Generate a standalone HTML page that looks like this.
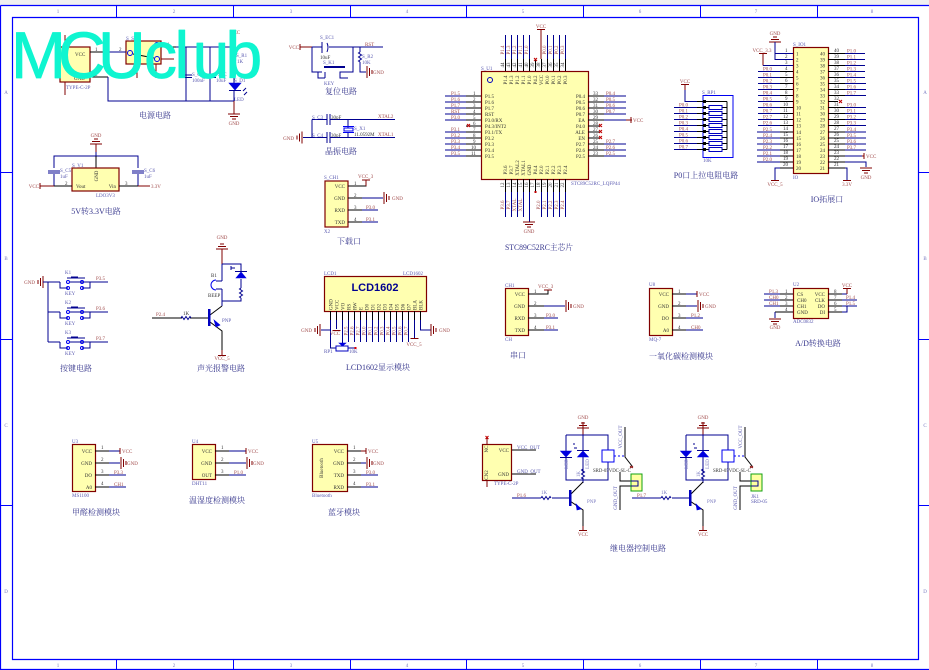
<!DOCTYPE html>
<html><head><meta charset="utf-8"><style>
html,body{margin:0;padding:0;background:#fff}
svg{display:block}
text{font-family:"Liberation Serif","Noto Serif CJK SC",serif;font-size:5px}
.w{fill:none;stroke:#000090;stroke-width:1;shape-rendering:crispEdges}
.k{fill:none;stroke:#000;stroke-width:1;shape-rendering:crispEdges}
.p{fill:none;stroke:#800000;stroke-width:1;shape-rendering:crispEdges}
.c{fill:#ffffb0;stroke:#800000;stroke-width:1.200}
.f{fill:none;stroke:#0000f0;stroke-width:1}
.s{fill:#0000e0;stroke:#0000e0;stroke-width:.6}
.n{fill:#a04a4a}.i{fill:#333}.l{fill:#5a5ab0}.z{fill:#7a7ac0;font-size:5px}
.h{fill:#38388e;font-size:8px;text-anchor:middle;font-family:"Liberation Serif","Noto Serif CJK SC",serif}
.m{text-anchor:middle}.e{text-anchor:end}
.a{shape-rendering:auto}
</style></head><body>
<svg width="929" height="670" viewBox="0 0 929 670" xmlns="http://www.w3.org/2000/svg">
<defs>
<g id="gd" class="p"><path d="M-6 0H6M-4 2.500H4M-2 5H2"/></g>
<g id="gu" class="p"><path d="M-6 0H6M-4 -2.500H4M-2 -5H2"/></g>
<g id="gr" class="p"><path d="M0 -6V6M2.500 -4V4M5 -2V2"/></g>
<g id="gl" class="p"><path d="M0 -6V6M-2.500 -4V4M-5 -2V2"/></g>
<path id="rh" class="w a" d="M-5 0L-4 -1.500L-2 1.500L0 -1.500L2 1.500L4 -1.500L5 0"/>
<path id="rv" class="w a" d="M0 -5L-1.500 -4L1.500 -2L-1.500 0L1.500 2L-1.500 4L0 5"/>
<g id="key">
<path class="w" d="M0 0H12M12 0V6H20M46 0H22M34 0V0M34 6H42V0"/>
<circle class="f" cx="20" cy="0" r="1.500"/><circle class="f" cx="20" cy="6" r="1.500"/>
<circle class="f" cx="34" cy="0" r="1.500"/><circle class="f" cx="34" cy="6" r="1.500"/>
<path class="w" d="M19 -4H37"/><path d="M23 -5.500H30V-4H23Z" fill="#000090"/>
</g>
<g id="relay">
<path class="p" d="M583 422V435"/>
<use href="#gu" x="583" y="428"/>
<text class="n m" x="583" y="419">GND</text>
<path class="w" d="M566 435H608V450M608 462V480H566V435M583 435V473M583 478V483"/>
<rect class="f" x="602" y="450" width="12" height="12"/>
<path class="s" d="M560.500 451H571.500L566 457Z"/><path class="w" d="M560 457.500H572"/>
<path class="s" d="M577.500 457H588.500L583 451Z"/><path class="w" d="M577 450.500H589"/>
<path class="w" d="M577 448L574 448M575 444H573"/>
<use href="#rv" x="583" y="474"/>
<g transform="rotate(-90)"><text class="z m" x="-464" y="568">LED</text><text class="z m" x="-464" y="589">LED</text><text class="z m" x="-474" y="580">1K</text></g>
<path class="k a" d="M570 495L583 482M570 501L583 510V526"/>
<path class="w" d="M536 498H541M552 498H570"/>
<use href="#rh" x="546" y="498"/>
<rect x="569" y="490" width="2.500" height="16" fill="#0000c0"/>
<path class="s" d="M576 504L581 509L577 510Z"/>
<text class="z" x="587" y="503">PNP</text>
<text class="z m" x="544" y="494">1K</text>
<path class="p" d="M583 526V530M579 530.500H587"/>
<text class="n m" x="583" y="536">VCC</text>
<path class="k a" d="M625 427V457L632 466"/>
<path class="f" d="M614 456H625" stroke-dasharray="2 2"/>
<path class="p a" d="M630 466L633 468M633 466L630 468"/>
<text class="i" x="593" y="472" style="font-size:4.800px">SRD-05VDC-SL-C</text>
<g transform="rotate(-90)"><text class="l m" x="-437" y="622">VCC_OUT</text><text class="l m" x="-498" y="617">GND_OUT</text></g>
<path class="k" d="M620 472V481H631M631 486H620V510"/>
<rect x="631" y="474" width="11" height="17" fill="#ffffa0" stroke="#10a010" stroke-width="1"/>
<path class="w" d="M631 481H638V486H631"/>
</g>
</defs>
<rect width="929" height="670" fill="#fff"/>
<rect x="0" y="0" width="929" height="5" fill="#f0f0f0"/>
<path d="M.5 5.500H929M.5 5.500V670M.5 669.500H929M12.500 17.500H918.500V659.500H12.500Z" fill="none" stroke="#0000ff" stroke-width="1.200"/>
<path d="M116.500 5V17M233.500 5V17M350.500 5V17M466.500 5V17M583.500 5V17M700.500 5V17M817.500 5V17M116.500 659V670M233.500 659V670M350.500 659V670M466.500 659V670M583.500 659V670M700.500 659V670M817.500 659V670M0 172.500H12M0 339.500H12M0 505.500H12M919 172.500H929M919 339.500H929M919 505.500H929" stroke="#0000ff" fill="none"/>
<g class="z" text-anchor="middle" style="font-size:5px">
<text x="58" y="13">1</text><text x="174" y="13">2</text><text x="291" y="13">3</text><text x="407" y="13">4</text><text x="523" y="13">5</text><text x="640" y="13">6</text><text x="756" y="13">7</text><text x="872" y="13">8</text>
<text x="58" y="667">1</text><text x="174" y="667">2</text><text x="291" y="667">3</text><text x="407" y="667">4</text><text x="523" y="667">5</text><text x="640" y="667">6</text><text x="756" y="667">7</text><text x="872" y="667">8</text>
<text x="6" y="94">A</text><text x="6" y="260">B</text><text x="6" y="427">C</text><text x="6" y="593">D</text>
<text x="925" y="94">A</text><text x="925" y="260">B</text><text x="925" y="427">C</text><text x="925" y="593">D</text>
</g>

<!-- power -->
<rect class="c" x="60" y="47" width="30" height="35"/>
<rect class="c" x="126" y="41" width="35" height="23"/>
<path class="k" d="M90 52H108M90 77H108M161 47H176"/>
<path class="w" d="M108 52H126M176 47H235V36M108 77V101H234M186 47V101M210 47V101M234 47V53M234 63V83M234 91V101"/>
<path class="p" d="M65 47V35M65 82V95M161 59H174M137 64V78M156 64V78M234 101V114M234 30V36"/>
<use href="#rv" x="234" y="58"/>
<path class="w" d="M180 75H192M180 77.500H192M204 75H216M204 77.500H216"/>
<path class="s" d="M229 83H241L235 90Z"/><path class="w a" d="M229 90.500H241M243 91L246 88M244 95L247 92"/>
<circle class="f" cx="130" cy="53" r="2.500"/><circle class="f" cx="157" cy="45" r="2.500"/><circle class="f" cx="157" cy="59" r="2.500"/>
<path class="k a" d="M133 54L154 58"/>
<use href="#gd" x="234" y="114"/>
<text class="n m" x="234" y="125">GND</text><text class="n m" x="235" y="34">VCC</text>
<text class="i" x="75" y="56">VCC</text><text class="i" x="74" y="80">GND</text>
<text class="l" x="66" y="89">TYPE-C-2P</text><text class="l" x="126" y="40">S_SW1</text>
<text class="l" x="236" y="57">S_R1</text><text class="l" x="237" y="63">1K</text><text class="l" x="234" y="82">S_D1</text><text class="l" x="234" y="101">LED</text>
<text class="l" x="192" y="76">S_C</text><text class="l" x="192" y="82">100nF</text><text class="l" x="218" y="76">S_C</text><text class="l" x="216" y="82">10uF</text>
<text class="i" x="95" y="51">1</text><text class="i" x="119" y="51">2</text><text class="i" x="167" y="46">1</text><text class="i" x="95" y="76">2</text>
<text class="h" x="155" y="118">电源电路</text>

<!-- LDO -->
<use href="#gu" x="96" y="144"/>
<text class="n m" x="96" y="137">GND</text>
<path class="p" d="M96 144V152"/>
<path class="w" d="M96 152V156M54 168V156H138V168M54 174V186M138 174V186"/>
<path class="k" d="M96 156V168"/>
<rect class="c" x="72" y="168" width="47" height="23"/>
<path class="w" d="M48 171H60M48 173H60M132 171H144M132 173H144"/>
<path class="k" d="M54 186H72M119 186H138"/>
<path class="p" d="M40 183V189M40 186H54M138 186H150"/>
<text class="n e" x="39" y="188">VCC</text><text class="n" x="151" y="188">3.3V</text>
<text class="i" x="76" y="188">Vout</text><text class="i e" x="116" y="188">Vin</text>
<g transform="rotate(-90)"><text class="i m" x="-176" y="98">GND</text></g>
<text class="l" x="72" y="167">S_V1</text><text class="l" x="60" y="172">S_C5</text><text class="l" x="60" y="178">1uF</text><text class="l" x="144" y="172">S_C6</text><text class="l" x="144" y="178">1uF</text><text class="l" x="96" y="197">LDO3V3</text>
<text class="i" x="65" y="185">2</text><text class="i" x="125" y="185">3</text>
<text class="h" x="96" y="214">5V转3.3V电路</text>

<!-- reset -->
<path class="p" d="M300 44V50M300 47H312"/><text class="n e" x="299" y="49">VCC</text>
<path class="w" d="M312 47H322M329 47H383M312 47V72H322M353 47V72H345M360 47V52M360 62V72H366"/>
<path class="w a" d="M322 42V53M327 43Q329 47 327 52"/>
<use href="#rv" x="360" y="57"/>
<use href="#gr" x="367" y="72"/>
<text class="n" x="373" y="74">GND</text>
<text class="n" x="365" y="46">RST</text>
<text class="l" x="320" y="39">S_EC1</text><text class="i" x="320" y="59">10uF</text><text class="l" x="323" y="64">S_K1</text><text class="l" x="324" y="85">KEY</text><text class="l" x="362" y="58">S_R2</text><text class="l" x="362" y="64">10K</text>
<rect x="324" y="66" width="21" height="2" fill="#000090"/>
<path class="w" d="M318 72V78H325M345 72H340V78H348M325 72V78"/>
<text class="h" x="341" y="94">复位电路</text>

<!-- crystal -->
<use href="#gl" x="302" y="137.500"/>
<text class="n e" x="294" y="140">GND</text>
<path class="w" d="M303 137.500H327M312 119.500V137.500M312 119.500H327M330 119.500H395M330 137.500H395M327 114V125M330 114V125M327 132V143M330 132V143M348 119.500V128M348 132V137.500"/>
<rect class="f" x="344" y="128" width="9" height="3"/><path class="f" d="M343 126.500H354M343 132.500H354"/>
<text class="n" x="378" y="118">XTAL2</text><text class="n" x="378" y="136">XTAL1</text>
<text class="l" x="312" y="119">S_C3</text><text class="l" x="312" y="137">S_C4</text><text class="i" x="331" y="119">30pF</text><text class="i" x="331" y="137">30pF</text><text class="l" x="354" y="130">S_X1</text><text class="i" x="354" y="136">11.0592M</text>
<text class="h" x="341" y="154">晶振电路</text>

<!-- download -->
<rect class="c" x="325" y="181" width="23" height="46"/>
<g class="i" text-anchor="end"><text x="345" y="188">VCC</text><text x="345" y="200">GND</text><text x="345" y="212">RXD</text><text x="345" y="224">TXD</text></g>
<path class="k" d="M348 186H366V180M348 198H362M348 210H362M348 222H362"/>
<path class="w" d="M362 198H383M362 210H378M362 222H378"/>
<path class="p" d="M362 180H370M366 180V186"/>
<use href="#gr" x="384" y="198"/>
<g><text class="n" x="358" y="178">VCC_3</text><text class="n" x="392" y="200">GND</text><text class="n" x="366" y="209">P3.0</text><text class="n" x="366" y="221">P3.1</text></g>
<g class="i"><text x="354" y="185">1</text><text x="354" y="197">2</text><text x="354" y="209">3</text><text x="354" y="221">4</text></g>
<text class="l" x="324" y="179">S_CH1</text><text class="l" x="324" y="233">X2</text>
<text class="h" x="349" y="244">下载口</text>

<!-- MCU -->
<rect class="c" x="481.500" y="71.500" width="107" height="108"/>
<circle cx="490" cy="80" r="2.500" fill="none" stroke="#0000c0"/>
<path class="w" d="M445 96H466M445 102H466M445 108H466M445 114H466M445 120H466M445 132H466M445 138H466M445 144H466M445 150H466M445 156H466"/>
<path class="k" d="M466 96H481M466 102H481M466 108H481M466 114H481M466 120H481M466 126H481M466 132H481M466 138H481M466 144H481M466 150H481M466 156H481"/>
<path d="M467 124L470 127M470 124L467 127" stroke="#c00000" fill="none"/>
<path class="k" d="M588 96H604M588 102H604M588 108H604M588 114H604M588 120H604M588 126H600M588 132H600M588 138H600M588 144H604M588 150H604M588 156H604"/>
<path class="w" d="M604 96H626M604 102H626M604 108H626M604 114H626M604 120H630M604 144H626M604 150H626M604 156H626"/>
<path class="p" d="M626 120H632M631 117V123"/>
<text class="n" x="633" y="122">VCC</text>
<path d="M599 124L602 127M602 124L599 127M599 130L602 133M602 130L599 133M599 136L602 139M602 136L599 139" stroke="#c00000" fill="none"/>
<g class="i">
<text x="485" y="98">P1.5</text><text x="485" y="104">P1.6</text><text x="485" y="110">P1.7</text><text x="485" y="116">RST</text><text x="485" y="122">P3.0/RX</text><text x="485" y="128">P4.3/INT2</text><text x="485" y="134">P3.1/TX</text><text x="485" y="140">P3.2</text><text x="485" y="146">P3.3</text><text x="485" y="152">P3.4</text><text x="485" y="158">P3.5</text>
<g text-anchor="end"><text x="585" y="98">P0.4</text><text x="585" y="104">P0.5</text><text x="585" y="110">P0.6</text><text x="585" y="116">P0.7</text><text x="585" y="122">EA</text><text x="585" y="128">P4.0</text><text x="585" y="134">ALE</text><text x="585" y="140">EN</text><text x="585" y="146">P2.7</text><text x="585" y="152">P2.6</text><text x="585" y="158">P2.5</text></g>
<text x="473" y="95">1</text><text x="473" y="101">2</text><text x="473" y="107">3</text><text x="473" y="113">4</text><text x="473" y="119">5</text><text x="473" y="125">6</text><text x="473" y="131">7</text><text x="473" y="137">8</text><text x="473" y="143">9</text><text x="471" y="149">10</text><text x="471" y="155">11</text>
<text x="593" y="95">33</text><text x="593" y="101">32</text><text x="593" y="107">31</text><text x="593" y="113">30</text><text x="593" y="119">29</text><text x="593" y="125">28</text><text x="593" y="131">27</text><text x="593" y="137">26</text><text x="593" y="143">25</text><text x="593" y="149">24</text><text x="593" y="155">23</text>
</g>
<g class="n">
<text x="451" y="95">P1.5</text><text x="451" y="101">P1.6</text><text x="451" y="107">P1.7</text><text x="451" y="113">RST</text><text x="451" y="119">P3.0</text><text x="451" y="131">P3.1</text><text x="451" y="137">P3.2</text><text x="451" y="143">P3.3</text><text x="451" y="149">P3.4</text><text x="451" y="155">P3.5</text>
<text x="606" y="95">P0.4</text><text x="606" y="101">P0.5</text><text x="606" y="107">P0.6</text><text x="606" y="113">P0.7</text><text x="606" y="143">P2.7</text><text x="606" y="149">P2.6</text><text x="606" y="155">P2.5</text>
</g>
<path class="w" d="M505.500 35V59M511.500 35V59M517.500 35V59M523.500 35V59M529.500 35V59M547.500 35V59M553.500 35V59M559.500 35V59M565.500 35V59"/>
<path class="k" d="M505.500 59V71M511.500 59V71M517.500 59V71M523.500 59V71M529.500 59V71M535.500 59V71M541.500 59V71M547.500 59V71M553.500 59V71M559.500 59V71M565.500 59V71"/>
<path class="p" d="M541 30V59M537 29.500H545"/>
<text class="n m" x="541" y="28">VCC</text>
<path d="M534 58L537 61M537 58L534 61" stroke="#c00000" fill="none"/>
<g transform="rotate(-90)">
<g class="n" text-anchor="middle"><text x="-50" y="504">P1.4</text><text x="-50" y="510">P1.3</text><text x="-50" y="516">P1.2</text><text x="-50" y="522">P1.1</text><text x="-50" y="528">P1.0</text><text x="-50" y="546">P0.0</text><text x="-50" y="552">P0.1</text><text x="-50" y="558">P0.2</text><text x="-50" y="564">P0.3</text></g>
<g class="i" text-anchor="middle"><text x="-65" y="504">44</text><text x="-65" y="510">43</text><text x="-65" y="516">42</text><text x="-65" y="522">41</text><text x="-65" y="528">40</text><text x="-65" y="534">39</text><text x="-65" y="540">38</text><text x="-65" y="546">37</text><text x="-65" y="552">36</text><text x="-65" y="558">35</text><text x="-65" y="564">34</text>
<text x="-80" y="507">P1.4</text><text x="-80" y="513">P1.3</text><text x="-80" y="519">P1.2</text><text x="-80" y="525">P1.1</text><text x="-80" y="531">P1.0</text><text x="-80" y="537">P4.2</text><text x="-80" y="543">VCC</text><text x="-80" y="549">P0.0</text><text x="-80" y="555">P0.1</text><text x="-80" y="561">P0.2</text><text x="-80" y="567">P0.3</text>
<text x="-170" y="507">P3.6</text><text x="-170" y="513">P3.7</text><text x="-168" y="519">XTAL2</text><text x="-168" y="525">XTAL1</text><text x="-170" y="531">GND</text><text x="-170" y="537">P4.4</text><text x="-170" y="543">P2.0</text><text x="-170" y="549">P2.1</text><text x="-170" y="555">P2.2</text><text x="-170" y="561">P2.3</text><text x="-170" y="567">P2.4</text>
<text x="-185" y="504">12</text><text x="-185" y="510">13</text><text x="-185" y="516">14</text><text x="-185" y="522">15</text><text x="-185" y="528">16</text><text x="-185" y="534">17</text><text x="-185" y="540">18</text><text x="-185" y="546">19</text><text x="-185" y="552">20</text><text x="-185" y="558">21</text><text x="-185" y="564">22</text></g>
<g class="n" text-anchor="middle"><text x="-205" y="504">P3.6</text><text x="-205" y="510">P3.7</text><text x="-205" y="516">XTAL</text><text x="-205" y="522">XTAL</text><text x="-205" y="540">P2.0</text><text x="-205" y="546">P2.1</text><text x="-205" y="552">P2.2</text><text x="-205" y="558">P2.3</text><text x="-205" y="564">P2.4</text></g>
</g>
<path class="k" d="M505.500 179V192M511.500 179V192M517.500 179V192M523.500 179V192M529.500 179V192M535.500 179V192M541.500 179V192M547.500 179V192M553.500 179V192M559.500 179V192M565.500 179V192"/>
<path class="w" d="M505.500 192V217M511.500 192V217M517.500 192V217M523.500 192V217M529.500 192V222M541.500 192V217M547.500 192V217M553.500 192V217M559.500 192V217M565.500 192V217"/>
<rect x="534.500" y="191" width="2" height="2" fill="#c00000"/>
<use href="#gd" x="529" y="222"/>
<text class="n m" x="529" y="233">GND</text>
<text class="l" x="481" y="70">S_U1</text><text class="l" x="571" y="185">STC89C52RC_LQFP44</text>
<text class="h" x="539" y="250" textLength="68" lengthAdjust="spacingAndGlyphs">STC89C52RC主芯片</text>

<!-- P0 pullups -->
<rect class="f" x="703" y="95.500" width="30" height="62"/>
<path class="p" d="M685 85V90M681 84.500H689"/><text class="n m" x="685" y="83">VCC</text>
<path class="w" d="M685 90V101.500H697"/>
<path class="k" d="M697 101.500H706M697 107.500H709M697 113.500H709M697 119.500H709M697 125.500H709M697 131.500H709M697 137.500H709M697 143.500H709M697 149.500H709M722 107.500H727M722 113.500H727M722 119.500H727M722 125.500H727M722 131.500H727M722 137.500H727M722 143.500H727M722 149.500H727M727 101.500V149.500M706 101.500H727"/>
<path class="w" d="M674 107.500H697M674 113.500H697M674 119.500H697M674 125.500H697M674 131.500H697M674 137.500H697M674 143.500H697M674 149.500H697"/>
<g fill="none" stroke="#0000c0"><rect x="709" y="105.500" width="13" height="4"/><rect x="709" y="111.500" width="13" height="4"/><rect x="709" y="117.500" width="13" height="4"/><rect x="709" y="123.500" width="13" height="4"/><rect x="709" y="129.500" width="13" height="4"/><rect x="709" y="135.500" width="13" height="4"/><rect x="709" y="141.500" width="13" height="4"/><rect x="709" y="147.500" width="13" height="4"/></g>
<g fill="#000"><rect x="703" y="100" width="3" height="3"/><rect x="703" y="106" width="3" height="3"/><rect x="703" y="112" width="3" height="3"/><rect x="703" y="118" width="3" height="3"/><rect x="703" y="124" width="3" height="3"/><rect x="703" y="130" width="3" height="3"/><rect x="703" y="136" width="3" height="3"/><rect x="703" y="142" width="3" height="3"/><rect x="703" y="148" width="3" height="3"/></g>
<g class="n"><text x="679" y="106.500">P0.0</text><text x="679" y="112.500">P0.1</text><text x="679" y="118.500">P0.2</text><text x="679" y="124.500">P0.3</text><text x="679" y="130.500">P0.4</text><text x="679" y="136.500">P0.5</text><text x="679" y="142.500">P0.6</text><text x="679" y="148.500">P0.7</text></g>
<text class="l" x="702" y="94">S_RP1</text><text class="l" x="703" y="162">10K</text>
<text class="h" x="706" y="178">P0口上拉电阻电路</text>

<!-- IO -->
<rect class="c" x="793.500" y="47.500" width="35" height="126"/>
<use href="#gu" x="775" y="42"/>
<text class="n m" x="775" y="35">GND</text>
<path class="w" d="M775 42V59.500H793M775 53.500H793"/>
<path class="p" d="M759 53.500H767M763 53.500V65.500"/><text class="n m" x="762" y="52">VCC_3.3</text>
<path class="w" d="M763 65.500H793"/>
<path class="w" d="M758 71.500H780M758 77.500H780M758 83.500H780M758 89.500H780M758 95.500H780M758 101.500H780M758 107.500H780M758 113.500H780M758 119.500H780M758 125.500H780M757 132H780M757 138H780M757 144H780M757 150H780M757 156H780M757 162H780M775 180V168H780"/>
<path class="k" d="M780 71.500H793M780 77.500H793M780 83.500H793M780 89.500H793M780 95.500H793M780 101.500H793M780 107.500H793M780 113.500H793M780 119.500H793M780 125.500H793M780 132H793M780 138H793M780 144H793M780 150H793M780 156H793M780 162H793M780 168H793"/>
<path class="k" d="M828 53.500H845M828 59.500H845M828 65.500H845M828 71.500H845M828 77.500H845M828 83.500H845M828 89.500H845M828 95.500H845M828 101.500H838M828 107.500H845M828 113.500H845M828 119.500H845M828 125.500H845M828 132H845M828 138H845M828 144H845M828 150H845M828 156H845M828 162H845M828 168H845"/>
<path class="w" d="M845 53.500H865M845 59.500H865M845 65.500H865M845 71.500H865M845 77.500H865M845 83.500H866M845 89.500H866M845 95.500H866M845 107.500H866M845 113.500H866M845 119.500H866M845 125.500H866M845 132H866M845 138H866M845 144H866M845 150H866M845 156H862M845 162H866V167M845 168H847V180"/>
<path d="M839 100L842 103M842 100L839 103" stroke="#c00000" fill="none"/>
<path class="p" d="M862 156H864M864 153V159M775 180V181M771 180.500H779M843 180.500H851"/>
<use href="#gd" x="866" y="168"/>
<text class="n" x="866" y="158">VCC</text><text class="n m" x="866" y="179">GND</text><text class="n m" x="775" y="186">VCC_5</text><text class="n m" x="847" y="186">3.3V</text>
<text class="l" x="793" y="46">S_IO1</text><text class="l" x="793" y="179">IO</text>
<g class="i">
<text x="796" y="55.500">1</text><text x="796" y="61.500">2</text><text x="796" y="67.500">3</text><text x="796" y="73.500">4</text><text x="796" y="79.500">5</text><text x="796" y="85.500">6</text><text x="796" y="91.500">7</text><text x="796" y="97.500">8</text><text x="796" y="103.500">9</text><text x="796" y="109.500">10</text><text x="796" y="115.500">11</text><text x="796" y="121.500">12</text><text x="796" y="127.500">13</text><text x="796" y="134">14</text><text x="796" y="140">15</text><text x="796" y="146">16</text><text x="796" y="152">17</text><text x="796" y="158">18</text><text x="796" y="164">19</text><text x="796" y="170">20</text>
<g text-anchor="end"><text x="825" y="55.500">40</text><text x="825" y="61.500">39</text><text x="825" y="67.500">38</text><text x="825" y="73.500">37</text><text x="825" y="79.500">36</text><text x="825" y="85.500">35</text><text x="825" y="91.500">34</text><text x="825" y="97.500">33</text><text x="825" y="103.500">32</text><text x="825" y="109.500">31</text><text x="825" y="115.500">30</text><text x="825" y="121.500">29</text><text x="825" y="127.500">28</text><text x="825" y="134">27</text><text x="825" y="140">26</text><text x="825" y="146">25</text><text x="825" y="152">24</text><text x="825" y="158">23</text><text x="825" y="164">22</text><text x="825" y="170">21</text></g>
<text x="785" y="52">1</text><text x="785" y="58">2</text><text x="785" y="64">3</text><text x="785" y="70">4</text><text x="785" y="76">5</text><text x="785" y="82">6</text><text x="785" y="88">7</text><text x="785" y="94">8</text><text x="785" y="100">9</text><text x="783" y="106">10</text><text x="783" y="112">11</text><text x="783" y="118">12</text><text x="783" y="124">13</text><text x="783" y="130">14</text><text x="783" y="136">15</text><text x="783" y="142">16</text><text x="783" y="148">17</text><text x="783" y="154">18</text><text x="783" y="160">19</text><text x="783" y="166">20</text>
<text x="834" y="52">40</text><text x="834" y="58">39</text><text x="834" y="64">38</text><text x="834" y="70">37</text><text x="834" y="76">36</text><text x="834" y="82">35</text><text x="834" y="88">34</text><text x="834" y="94">33</text><text x="834" y="100">32</text><text x="834" y="106">31</text><text x="834" y="112">30</text><text x="834" y="118">29</text><text x="834" y="124">28</text><text x="834" y="130">27</text><text x="834" y="136">26</text><text x="834" y="142">25</text><text x="834" y="148">24</text><text x="834" y="154">23</text><text x="834" y="160">22</text><text x="834" y="166">21</text>
</g>
<g class="n">
<text x="763" y="70.500">P0.0</text><text x="763" y="76.500">P0.1</text><text x="763" y="82.500">P0.2</text><text x="763" y="88.500">P0.3</text><text x="763" y="94.500">P0.4</text><text x="763" y="100.500">P0.5</text><text x="763" y="106.500">P0.6</text><text x="763" y="112.500">P0.7</text><text x="763" y="118.500">P2.7</text><text x="763" y="124.500">P2.6</text><text x="763" y="131">P2.5</text><text x="763" y="137">P2.4</text><text x="763" y="143">P2.3</text><text x="763" y="149">P2.2</text><text x="763" y="155">P2.1</text><text x="763" y="161">P2.0</text>
<text x="847" y="52.500">P1.0</text><text x="847" y="58.500">P1.1</text><text x="847" y="64.500">P1.2</text><text x="847" y="70.500">P1.3</text><text x="847" y="76.500">P1.4</text><text x="847" y="82.500">P1.5</text><text x="847" y="88.500">P1.6</text><text x="847" y="94.500">P1.7</text><text x="847" y="106.500">P3.0</text><text x="847" y="112.500">P3.1</text><text x="847" y="118.500">P3.2</text><text x="847" y="124.500">P3.3</text><text x="847" y="131">P3.4</text><text x="847" y="137">P3.5</text><text x="847" y="143">P3.6</text><text x="847" y="149">P3.7</text>
</g>
<text class="h" x="827" y="202">IO拓展口</text>

<!-- keys -->
<text class="n e" x="35" y="284">GND</text>
<use href="#gl" x="43" y="282"/>
<path class="w" d="M43 282H48V342"/>
<use href="#key" x="48" y="282"/><use href="#key" x="48" y="312"/><use href="#key" x="48" y="342"/>
<path class="w" d="M94 282H108M94 312H108M94 342H108"/>
<g class="l"><text x="65" y="274">K1</text><text x="65" y="304">K2</text><text x="65" y="334">K3</text><text x="65" y="295">KEY</text><text x="65" y="325">KEY</text><text x="65" y="355">KEY</text></g>
<g class="n"><text x="96" y="280">P3.5</text><text x="96" y="310">P3.6</text><text x="96" y="340">P3.7</text></g>
<text class="h" x="76" y="371">按键电路</text>

<!-- buzzer -->
<use href="#gu" x="222" y="249"/>
<text class="n m" x="222" y="239">GND</text>
<path class="p" d="M222 249V264"/>
<path class="w" d="M222 264H241V271M241 279V288M241 298V301H222V306M222 264V281M222 289V301M216 281H222M216 289H222"/>
<path class="f" d="M216 280A5 5 0 0 0 216 290"/>
<path class="s" d="M236 278H246L241 272Z"/><path class="w" d="M235 271.500H247"/>
<path class="w" d="M231 268H235M231 266V270"/>
<use href="#rv" x="241" y="293"/>
<text class="i" x="211" y="277">B1</text><text class="i" x="208" y="297">BEEP</text>
<path class="k a" d="M210 315L222 306M210 322L222 331V355M152 318H182M190 318H209"/>
<use href="#rh" x="186" y="318"/>
<rect x="208" y="309" width="2.500" height="17" fill="#0000c0"/>
<path class="s" d="M214 320L220 325L216 327Z"/>
<path class="p" d="M222 350V355M218 355.500H226"/>
<text class="n m" x="222" y="360">VCC_5</text>
<text class="n" x="156" y="316">P2.4</text><text class="i m" x="186" y="315">1K</text><text class="l" x="222" y="322">PNP</text>
<text class="h" x="221" y="371">声光报警电路</text>

<!-- LCD -->
<rect class="c" x="324.500" y="276.500" width="102" height="35"/>
<text x="375" y="291" text-anchor="middle" style="font-family:'Liberation Sans',sans-serif;font-size:11px;font-weight:bold;fill:#000090">LCD1602</text>
<text class="l" x="324" y="275">LCD1</text><text class="l" x="403" y="275">LCD1602</text>
<g transform="rotate(-90)" class="i"><text x="-310" y="332.500">GND</text><text x="-310" y="338.500">VCC</text><text x="-310" y="344.500">VO</text><text x="-310" y="350.500">RS</text><text x="-310" y="356.500">RW</text><text x="-310" y="362.500">E</text><text x="-310" y="368.500">D0</text><text x="-310" y="374.500">D1</text><text x="-310" y="380.500">D2</text><text x="-310" y="386.500">D3</text><text x="-310" y="392.500">D4</text><text x="-310" y="398.500">D5</text><text x="-310" y="404.500">D6</text><text x="-310" y="410.500">D7</text><text x="-310" y="416.500">BLA</text><text x="-310" y="422.500">BLK</text></g>
<path class="k" d="M330.500 311V320M336.500 311V320M342.500 311V320M348.500 311V320M354.500 311V320M360.500 311V320M366.500 311V320M372.500 311V320M378.500 311V320M384.500 311V320M390.500 311V320M396.500 311V320M402.500 311V320M408.500 311V320M414.500 311V320M420.500 311V320"/>
<path class="w" d="M330.500 320V348H336M336.500 320V329M342.500 320V344M348.500 320V342M354.500 320V342M360.500 320V342M366.500 320V342M372.500 320V342M378.500 320V342M384.500 320V342M390.500 320V342M396.500 320V342M402.500 320V342M408.500 320V342M414.500 320V338M420.500 320V330H431M321 330H330M348 348H355"/>
<g transform="rotate(-90)" class="n" text-anchor="middle"><text x="-331" y="347.500">P2.5</text><text x="-331" y="353.500">P2.6</text><text x="-331" y="359.500">P2.7</text><text x="-331" y="365.500">P0.0</text><text x="-331" y="371.500">P0.1</text><text x="-331" y="377.500">P0.2</text><text x="-331" y="383.500">P0.3</text><text x="-331" y="389.500">P0.4</text><text x="-331" y="395.500">P0.5</text><text x="-331" y="401.500">P0.6</text><text x="-331" y="407.500">P0.7</text></g>
<use href="#gl" x="320" y="330"/><use href="#gr" x="431" y="330"/>
<text class="n e" x="312" y="332">GND</text><text class="n" x="439" y="332">GND</text>
<path class="p" d="M332.500 330.500H340.500M410.500 338.500H418.500"/>
<text class="n m" x="335" y="335">VCC</text><text class="n m" x="414" y="346">VCC_5</text>
<rect x="336" y="346" width="12" height="5" fill="#fff" stroke="#0000c0"/>
<path class="s" d="M339 343H346L342.500 346Z"/>
<rect x="354.500" y="347" width="2" height="2" fill="#e00000"/>
<text class="l" x="324" y="353">RP1</text><text class="l" x="349" y="353">10K</text>
<text class="h" x="378" y="370">LCD1602显示模块</text>

<!-- serial -->
<rect class="c" x="505.500" y="288.500" width="23" height="47"/>
<g class="i" text-anchor="end"><text x="525" y="296">VCC</text><text x="525" y="308">GND</text><text x="525" y="320">RXD</text><text x="525" y="332">TXD</text></g>
<path class="k" d="M528 294H548V290M528 306H544M528 318H544M528 330H544"/>
<path class="w" d="M544 306H565M544 318H558M544 330H558"/>
<path class="p" d="M544 290H552"/>
<use href="#gr" x="566" y="306"/>
<text class="n" x="538" y="288">VCC_3</text><text class="n" x="573" y="308">GND</text><text class="n" x="546" y="317">P3.0</text><text class="n" x="546" y="329">P3.1</text>
<g class="i"><text x="534" y="293">1</text><text x="534" y="305">2</text><text x="534" y="317">3</text><text x="534" y="329">4</text></g>
<text class="l" x="505" y="287">CH1</text><text class="l" x="505" y="341">CH</text>
<text class="h" x="518" y="358">串口</text>

<!-- MQ-7 -->
<rect class="c" x="649.500" y="288.500" width="23" height="47"/>
<g class="i" text-anchor="end"><text x="669" y="296">VCC</text><text x="669" y="308">GND</text><text x="669" y="320">DO</text><text x="669" y="332">A0</text></g>
<path class="k" d="M672 294H686M672 306H686M672 318H686M672 330H686"/>
<path class="w" d="M686 294H697M686 306H697M686 318H703M686 330H703"/>
<path class="p" d="M697 291V297"/>
<use href="#gr" x="698" y="306"/>
<text class="n" x="699" y="296">VCC</text><text class="n" x="705" y="308">GND</text><text class="n" x="691" y="317">P1.2</text><text class="n" x="691" y="329">CH0</text>
<g class="i"><text x="678" y="293">1</text><text x="678" y="305">2</text><text x="678" y="317">3</text><text x="678" y="329">4</text></g>
<text class="l" x="649" y="286">U8</text><text class="l" x="649" y="341">MQ-7</text>
<text class="h" x="681" y="359">一氧化碳检测模块</text>

<!-- ADC -->
<rect class="c" x="793.500" y="288.500" width="35" height="30"/>
<g class="i"><text x="797" y="296">CS</text><text x="797" y="302">CH0</text><text x="797" y="308">CH1</text><text x="797" y="314">GND</text></g>
<g class="i" text-anchor="end"><text x="825" y="296">VCC</text><text x="825" y="302">CLK</text><text x="825" y="308">DO</text><text x="825" y="314">DI</text></g>
<path class="k" d="M780 294H793M780 300H793M780 306H793M775 312H793M828 294H842M828 300H842M828 306H842M828 312H842"/>
<path class="w" d="M764 294H780M764 300H780M764 306H780M775 312V318M842 294H847M842 300H857M842 306H857M842 312H847V306"/>
<path class="p" d="M847 294V288M843 288.500H851"/>
<use href="#gd" x="775" y="319"/>
<text class="n m" x="775" y="329">GND</text><text class="n m" x="847" y="287">VCC</text>
<g class="n"><text x="769" y="293">P1.3</text><text x="769" y="299">CH0</text><text x="769" y="305">CH1</text><text x="846" y="299">P1.4</text><text x="846" y="305">P1.5</text></g>
<g class="i"><text x="785" y="293">1</text><text x="785" y="299">2</text><text x="785" y="305">3</text><text x="785" y="311">4</text><text x="834" y="293">8</text><text x="834" y="299">7</text><text x="834" y="305">6</text><text x="834" y="311">5</text></g>
<text class="l" x="793" y="286">U2</text><text class="l" x="793" y="323">ADC0832</text>
<text class="h" x="818" y="346">A/D转换电路</text>

<!-- U3 -->
<rect class="c" x="72.500" y="444.500" width="23" height="47"/>
<g class="i" text-anchor="end"><text x="92" y="453">VCC</text><text x="92" y="465">GND</text><text x="92" y="477">DO</text><text x="92" y="489">A0</text></g>
<path class="k" d="M95 451H109M95 463H109M95 475H109M95 487H109"/>
<path class="w" d="M109 451H120M109 463H120M109 475H126M109 487H126"/>
<path class="p" d="M120 448V454"/>
<use href="#gr" x="121" y="463"/>
<text class="n" x="122" y="453">VCC</text><text class="n" x="127" y="465">GND</text><text class="n" x="114" y="474">P3.3</text><text class="n" x="114" y="486">CH1</text>
<g class="i"><text x="101" y="449">1</text><text x="101" y="461">2</text><text x="101" y="473">3</text><text x="101" y="485">4</text></g>
<text class="l" x="72" y="443">U3</text><text class="l" x="72" y="497">MS1100</text>
<text class="h" x="96" y="515">甲醛检测模块</text>

<!-- U4 -->
<rect class="c" x="192.500" y="444.500" width="23" height="35"/>
<g class="i" text-anchor="end"><text x="212" y="453">VCC</text><text x="212" y="465">GND</text><text x="212" y="477">OUT</text></g>
<path class="k" d="M215 451H229M215 463H229M215 475H229"/>
<path class="w" d="M229 451H246M229 463H246M229 475H246"/>
<path class="p" d="M246 448V454"/>
<use href="#gr" x="247" y="463"/>
<text class="n" x="248" y="453">VCC</text><text class="n" x="253" y="465">GND</text><text class="n" x="234" y="474">P1.0</text>
<g class="i"><text x="221" y="449">1</text><text x="221" y="461">2</text><text x="221" y="473">3</text></g>
<text class="l" x="192" y="443">U4</text><text class="l" x="192" y="485">DHT11</text>
<text class="h" x="217" y="503">温湿度检测模块</text>

<!-- U5 -->
<rect class="c" x="312.500" y="444.500" width="35" height="47"/>
<g class="i" text-anchor="end"><text x="344" y="453">VCC</text><text x="344" y="465">GND</text><text x="344" y="477">TXD</text><text x="344" y="489">RXD</text></g>
<g transform="rotate(-90)"><text class="i m" x="-468" y="323">Bluetooth</text></g>
<path class="k" d="M347 451H361M347 463H361M347 475H361M347 487H361"/>
<path class="w" d="M361 463H366M361 475H378M361 487H378"/>
<path class="p" d="M361 451H366M366 448V454"/>
<use href="#gr" x="367" y="463"/>
<text class="n" x="368" y="453">VCC</text><text class="n" x="373" y="465">GND</text><text class="n" x="366" y="474">P3.0</text><text class="n" x="366" y="486">P3.1</text>
<g class="i"><text x="353" y="449">1</text><text x="353" y="461">2</text><text x="353" y="473">3</text><text x="353" y="485">4</text></g>
<text class="l" x="312" y="443">U5</text><text class="l" x="312" y="497">Bluetooth</text>
<text class="h" x="344" y="515">蓝牙模块</text>

<!-- relay -->
<rect class="c" x="482.500" y="444.500" width="29" height="36"/>
<text class="i e" x="509" y="452">VCC</text><text class="i e" x="509" y="476">GND</text>
<g transform="rotate(-90)" class="i"><text class="m" x="-449" y="488">NC</text><text class="m" x="-475" y="488">CN2</text></g>
<path class="p" d="M487 444V437M487 480V487"/>
<path d="M485.500 436L488.500 439M488.500 436L485.500 439" stroke="#c00000" fill="none"/>
<path class="k" d="M512 450H536M512 474H536"/>
<text class="l" x="517" y="449">VCC_OUT</text><text class="l" x="517" y="473">GND_OUT</text>
<text class="l" x="494" y="485">TYPE-C-2P</text>
<use href="#relay"/><use href="#relay" x="120"/>
<path class="w" d="M512 498H536M632 498H656"/>
<text class="n" x="517" y="497">P1.6</text><text class="n" x="637" y="497">P1.7</text>
<text class="l" x="751" y="498">JK1</text><text class="l" x="751" y="503">SRD-05</text>
<text class="h" x="638" y="551">继电器控制电路</text>

<!-- watermark -->
<text y="78" x="11 58 98 144 174.500 192.600 225.500" style="font-family:'Liberation Sans',sans-serif;font-size:66px;fill:#0ff5d0;stroke:#0ff5d0;stroke-width:.8;stroke-linejoin:round">MCUclub</text>
</svg>
</body></html>
